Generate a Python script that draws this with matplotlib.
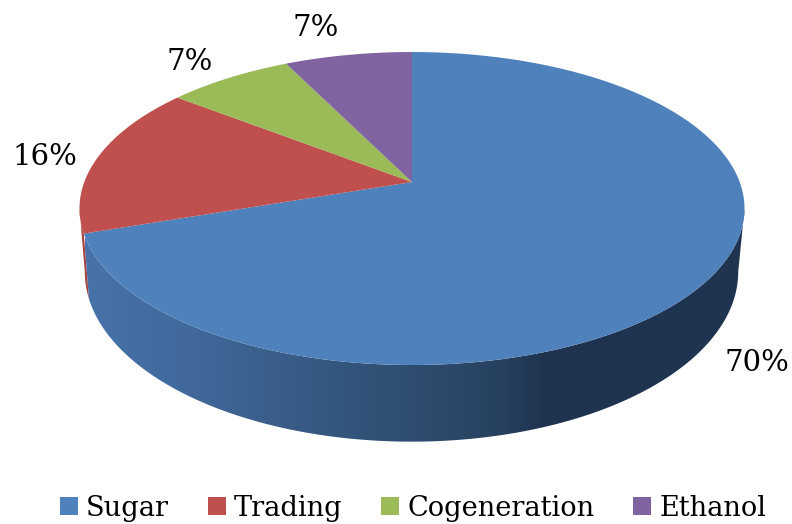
import numpy as np
import matplotlib
matplotlib.use('Agg')
import matplotlib.pyplot as plt
from matplotlib.colors import LinearSegmentedColormap
from matplotlib.patches import Patch, Polygon

categories = ['Sugar', 'Trading', 'Cogeneration', 'Ethanol']
values = [69.8, 15.7, 7.2, 7.3]
colors = ['#4F81BD', '#C0504D', '#9BBB59', '#8064A2']
wall_red = '#A8423F'

# where the percent labels sit, in pixels
label_x = [757, 45, 190, 316]
label_y = [363, 157, 62, 28]

plt.rcParams['font.family'] = ['DejaVu Serif']

K = 0.1694


# unit circle seen in perspective: the centre ends up above the middle of the ellipse
def project(theta, x0, y0, a, c):
    u = np.sin(theta)
    v = np.cos(theta)
    w = 1 + K * v
    return x0 + a * u / w, y0 - c * v / w


def top(theta):
    return project(theta, 412, 182, 327.7, 152)


def bottom(theta):
    return project(theta, 411.5, 243, 322, 165)


def wall_outline(t0, t1):
    ts = np.linspace(t0, t1, 300)
    xt, yt = top(ts)
    xb, yb = bottom(ts)
    return np.column_stack([np.r_[xt, xb[::-1]], np.r_[yt, yb[::-1]]])


fig = plt.figure(figsize=(7.92, 5.24), dpi=100, facecolor='white')
ax = fig.add_axes([0, 0, 1, 1])

edges = 2 * np.pi * np.concatenate([[0], np.cumsum(values)]) / sum(values)
# the ellipse is widest here, the wall is hidden beyond it
widest = np.arccos(-K)

# side wall of the red slice, only a sliver shows behind the blue one
ax.add_patch(Polygon(wall_outline(edges[1], 2 * np.pi - widest), closed=True, color=wall_red, lw=0, zorder=1))

# side wall of the blue slice, shaded from left to right
shade = LinearSegmentedColormap.from_list('wall', [
    (0.00, '#4773AA'), (0.17, '#40689A'), (0.36, '#355880'), (0.50, '#2E4D70'),
    (0.63, '#27415F'), (0.70, '#1F3350'), (1.00, '#1F3552')])
clip = Polygon(wall_outline(widest, edges[1]), closed=True, transform=ax.transData, fc='none', ec='none')
ax.add_patch(clip)
im = ax.imshow(np.linspace(0, 1, 256).reshape(1, -1), cmap=shade, aspect='auto',
               extent=[85, 745, 450, 200], interpolation='bilinear', zorder=1.5)
im.set_clip_path(clip)

ax.set_xlim(0, 792)
ax.set_ylim(524, 0)
ax.set_axis_off()

# top face
for i in range(len(values)):
    ts = np.linspace(edges[i], edges[i + 1], 200)
    xs, ys = top(ts)
    ax.fill(np.r_[412, xs], np.r_[182, ys], color=colors[i], lw=0, zorder=2)

for i in range(len(values)):
    ax.text(label_x[i], label_y[i], f'{round(values[i])}%', fontsize=21, ha='center', va='center',
            color='black', zorder=3)

handles = [Patch(facecolor=c, edgecolor='none') for c in colors]
ax.legend(handles, categories, ncols=4, loc='center', bbox_to_anchor=(413 / 792, 1 - 508 / 524),
          frameon=False, fontsize=19.6, handlelength=0.66, handleheight=0.66, handletextpad=0.3,
          columnspacing=1.42, borderpad=0, borderaxespad=0)

fig.savefig('out.png', dpi=100)
